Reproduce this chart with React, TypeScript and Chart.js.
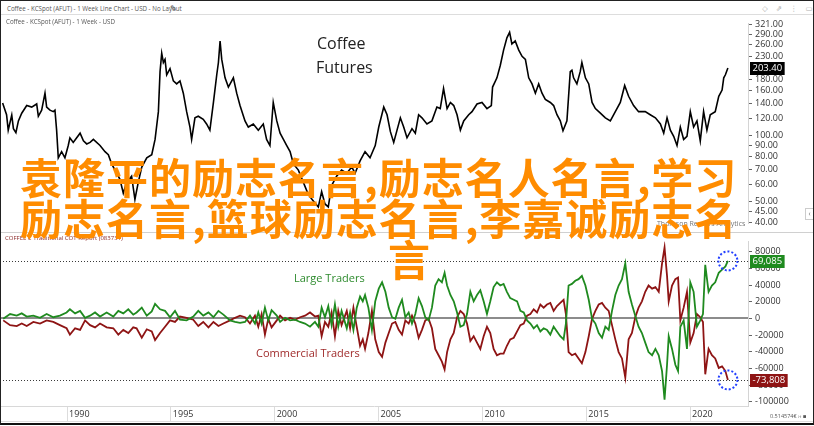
import React, { useEffect, useRef } from "react";
import { Chart, registerables } from "chart.js";

Chart.register(...registerables);

// ---------- Coffee futures (KCSpot) weekly close, USD cents/lb ----------
const priceYears = [
  1986.90, 1987.09, 1987.17, 1987.34, 1987.42, 1987.54, 1987.66, 1987.82, 1988.06, 1988.30,
  1988.54, 1988.62, 1988.78, 1988.94, 1989.02, 1989.18, 1989.34, 1989.42, 1989.50, 1989.58,
  1989.74, 1989.90, 1990.06, 1990.14, 1990.30, 1990.63, 1990.79, 1990.95, 1991.11, 1991.27,
  1991.59, 1991.83, 1991.99, 1992.15, 1992.39, 1992.55, 1992.71, 1992.87, 1993.11, 1993.27,
  1993.43, 1993.60, 1993.84, 1994.08, 1994.24, 1994.40, 1994.48, 1994.56, 1994.64, 1994.72,
  1994.80, 1994.96, 1995.12, 1995.28, 1995.44, 1995.60, 1995.76, 1995.92, 1996.00, 1996.16,
  1996.32, 1996.56, 1996.72, 1996.88, 1997.05, 1997.21, 1997.29, 1997.37, 1997.45, 1997.61,
  1997.77, 1998.01, 1998.17, 1998.33, 1998.57, 1998.73, 1998.97, 1999.21, 1999.45, 1999.61,
  1999.77, 1999.85, 1999.93, 2000.10, 2000.26, 2000.42, 2000.58, 2000.74, 2000.90, 2001.14,
  2001.38, 2001.62, 2001.86, 2002.10, 2002.26, 2002.42, 2002.58, 2002.74, 2002.98, 2003.22,
  2003.47, 2003.71, 2003.87, 2004.11, 2004.35, 2004.59, 2004.84, 2005.01, 2005.25, 2005.41,
  2005.57, 2005.73, 2005.89, 2006.05, 2006.21, 2006.37, 2006.61, 2006.77, 2006.93, 2007.09,
  2007.33, 2007.57, 2007.81, 2007.97, 2008.13, 2008.30, 2008.46, 2008.62, 2008.78, 2008.94,
  2009.10, 2009.34, 2009.50, 2009.74, 2009.98, 2010.22, 2010.43, 2010.49, 2010.70, 2010.86,
  2011.02, 2011.18, 2011.31, 2011.42, 2011.58, 2011.75, 2011.91, 2012.07, 2012.23, 2012.39,
  2012.55, 2012.71, 2012.87, 2013.03, 2013.27, 2013.43, 2013.59, 2013.75, 2013.88, 2014.07,
  2014.23, 2014.31, 2014.39, 2014.55, 2014.71, 2014.79, 2014.96, 2015.12, 2015.28, 2015.44,
  2015.68, 2015.92, 2016.16, 2016.40, 2016.64, 2016.85, 2017.04, 2017.28, 2017.52, 2017.84,
  2018.08, 2018.33, 2018.57, 2018.73, 2018.89, 2019.05, 2019.21, 2019.37, 2019.53, 2019.69,
  2019.85, 2020.01, 2020.17, 2020.33, 2020.49, 2020.65, 2020.81, 2020.97, 2021.21, 2021.38,
  2021.54, 2021.62, 2021.70, 2021.82,
];
const priceValues = [
  140.7, 124.4, 105.8, 124.0, 107.5, 103.1, 116.6, 126.4, 137.0, 134.8,
  139.3, 122.4, 130.5, 156.0, 134.8, 130.5, 128.5, 130.5, 105.8, 79.1,
  84.4, 79.1, 90.0, 97.6, 93.0, 102.5, 94.5, 91.5, 93.0, 96.0,
  90.0, 84.4, 81.7, 74.2, 67.3, 63.1, 54.5, 61.1, 65.2, 51.1,
  61.1, 71.8, 79.1, 81.7, 96.0, 128.5, 195.6, 237.5, 215.4, 222.5,
  189.3, 202.0, 177.5, 171.9, 177.5, 156.0, 128.5, 109.3, 96.0, 120.4,
  122.4, 118.5, 112.9, 105.8, 141.5, 189.3, 215.4, 270.0, 222.5, 183.3,
  166.4, 183.3, 156.0, 137.0, 116.6, 109.3, 112.9, 105.8, 112.9, 96.0,
  90.0, 112.9, 141.5, 116.6, 102.5, 96.0, 90.0, 84.4, 74.2, 69.5,
  61.1, 53.7, 50.3, 47.2, 55.4, 48.7, 47.2, 59.1, 65.2, 69.5,
  67.3, 71.8, 67.3, 76.6, 84.4, 79.1, 90.0, 109.3, 134.8, 124.4,
  104.1, 93.0, 105.8, 120.4, 109.3, 97.6, 107.5, 102.5, 124.4, 120.4,
  112.9, 116.6, 134.8, 132.7, 163.7, 132.7, 141.5, 137.0, 124.4, 105.8,
  116.6, 124.4, 128.5, 139.3, 141.5, 132.7, 137.0, 166.4, 183.3, 208.6,
  245.2, 279.0, 295.8, 261.5, 270.0, 245.2, 229.8, 222.5, 183.3, 171.9,
  156.0, 171.9, 156.0, 146.2, 141.5, 137.0, 124.4, 116.6, 105.2, 116.6,
  195.6, 198.7, 183.3, 171.9, 195.6, 215.4, 183.3, 171.9, 141.5, 132.7,
  126.4, 120.4, 116.6, 128.5, 141.5, 169.1, 151.0, 137.0, 128.5, 128.5,
  124.4, 120.4, 112.9, 102.5, 120.4, 105.8, 99.2, 90.0, 109.3, 96.0,
  99.2, 128.5, 109.3, 116.6, 94.5, 128.5, 105.8, 124.4, 128.5, 151.0,
  161.1, 183.3, 189.3, 203.4,
];
const priceTicks = [321, 290, 260, 230, 180, 160, 140, 120, 100, 90, 80, 70, 60, 50, 45, 40];

// ---------- COT report: net positions (contracts) ----------
const cotYears = [
  1986.93, 1987.26, 1987.58, 1987.82, 1988.06, 1988.38, 1988.70, 1989.02, 1989.34, 1989.66,
  1989.98, 1990.14, 1990.39, 1990.63, 1990.87, 1991.11, 1991.35, 1991.59, 1991.91, 1992.23,
  1992.47, 1992.71, 1992.95, 1993.19, 1993.35, 1993.60, 1993.84, 1994.08, 1994.24, 1994.48,
  1994.72, 1994.96, 1995.20, 1995.44, 1995.76, 1996.08, 1996.32, 1996.56, 1996.81, 1997.05,
  1997.29, 1997.53, 1997.85, 1998.09, 1998.33, 1998.57, 1998.81, 1999.05, 1999.21, 1999.37,
  1999.53, 1999.69, 1999.85, 2000.10, 2000.26, 2000.50, 2000.74, 2000.98, 2001.22, 2001.46,
  2001.70, 2001.94, 2002.10, 2002.26, 2002.42, 2002.58, 2002.74, 2002.90, 2003.06, 2003.22,
  2003.47, 2003.63, 2003.79, 2003.95, 2004.11, 2004.24, 2004.35, 2004.51,
  2004.68, 2004.84, 2005.01, 2005.17, 2005.33, 2005.49, 2005.65, 2005.81, 2005.97, 2006.13,
  2006.29, 2006.45, 2006.61, 2006.77, 2006.93, 2007.09, 2007.25, 2007.41, 2007.57, 2007.73,
  2007.89, 2008.05, 2008.18, 2008.30, 2008.46, 2008.62, 2008.78, 2008.94, 2009.10, 2009.26,
  2009.42, 2009.58, 2009.74, 2009.90, 2010.06, 2010.22, 2010.38, 2010.54, 2010.70, 2010.86,
  2011.02, 2011.18, 2011.34, 2011.51, 2011.67, 2011.83, 2011.99, 2012.15, 2012.31, 2012.47,
  2012.63, 2012.79, 2012.95, 2013.11, 2013.27, 2013.43, 2013.59, 2013.75, 2013.91, 2014.02,
  2014.15, 2014.31, 2014.47, 2014.63, 2014.79, 2014.96, 2015.12, 2015.28, 2015.44, 2015.60,
  2015.76, 2015.92, 2016.08, 2016.24, 2016.40, 2016.56, 2016.72, 2016.88, 2017.04, 2017.20,
  2017.36, 2017.52, 2017.68, 2017.84, 2018.00, 2018.17, 2018.33, 2018.49, 2018.65, 2018.77,
  2018.89, 2018.97, 2019.13, 2019.29, 2019.42, 2019.53, 2019.69, 2019.85, 2020.01, 2020.17,
  2020.33, 2020.49, 2020.62, 2020.73, 2020.89, 2021.05, 2021.21, 2021.38, 2021.54, 2021.70,
  2021.82,
];
const largeTraders = [
  -400, 5300, 3400, 6100, 2300, 3400, 800, 5300, 1500, 3400,
  7200, 11000, 6100, 9100, 800, 3400, 7200, 2300, 7200, 2300,
  9100, 6100, 11000, 4600, 7200, 13000, 3400, 8400, 17500, 11000,
  9100, 1500, 9100, -1500, -2300, 2300, 9100, 3400, 7200, 1500,
  9100, 4600, -2300, -4200, -5300, -4200, 3400, -6100, 7200, -6100,
  13000, -2300, 9900, 3400, -4200, 800, -2300, -1500, -4200, -6100,
  -9900, -4200, -9900, 13000, 1500, 14900, -8000, 16800, -9900, 9100,
  -11800, 7200, -13700, 13000, 26300, 20600, 28200, 13000,
  -13700, 20600, 35800, 43400, 32000, 13000, 1500, -400, 13000, 22500,
  1500, 7200, -6100, 5300, 24400, 14900, 1500, -2300, 13000, 39600,
  47200, 43400, 54900, 39600, 28200, 20600, 7200, -9900, -8000, 5300,
  32000, 20600, 28200, 33900, 20600, 5300, 20600, 37700, 43400, 39600,
  41500, 32000, 24400, 22500, 20600, 9100, 7200, -2300, -6100, -11800,
  -8000, -15600, -11800, -13700, -19400, -9900, -15600, -21300, -25100, -6100,
  39600, 41500, 45300, 47200, 51100, 39600, 22500, -400, -6100, -17500,
  -23200, -9900, -13700, 9100, 28200, 39600, 47200, 66300, 32000, 16800,
  3400, -9900, -17500, -29000, -40400, -44200, -36600, -44200, -63200, -97500,
  -55600, -21300, -36600, -55600, -63200, -9900, -2300, -36600, 43400, 32000,
  -9900, -2300, 5300, 64400, 32000, 39600, 43400, 54900, 58700, 62500,
  69085,
];
const commercialTraders = [
  -2300, -8000, -9100, -6100, -9100, -4200, -6100, -2300, -4200, -8000,
  -11800, -19400, -11800, -13700, -2300, -8000, -10700, -6100, -10700, -11800,
  -19400, -13700, -17500, -10700, -11800, -23200, -13000, -15600, -25900, -17500,
  -9900, -2300, -4200, 2300, 800, -1500, -9100, -4200, -10700, -4200,
  -9100, -6100, -2300, 800, 3400, 1500, -6100, 3400, -9900, 5300,
  -19400, -400, -10700, -2300, 3400, -2300, 800, -1500, 1500, 3400,
  7200, 2300, 3400, -21300, -4200, -9900, 7200, -21300, 9100, -8000,
  9100, -11800, 13000, -10000, -32800, -25100, -36600, -17500,
  9100, -25100, -40400, -46100, -29000, -17500, -6100, -4200, -13700, -19400,
  -2300, -6100, 3400, -6100, -23200, -13700, -2300, -400, -11800, -36600,
  -44200, -51800, -61300, -40400, -25100, -17500, 1500, 9100, 5300, -6100,
  -27100, -21300, -29000, -36600, -21300, -9900, -17500, -36600, -44200, -42300,
  -42300, -32800, -25100, -23200, -15600, -8000, -6100, 3400, 5300, 11000,
  7200, 16800, 13000, 16800, 18700, 9100, 14900, 18700, 22500, 5300,
  -40400, -44200, -42300, -48000, -53700, -40400, -21300, -400, 9100, 16800,
  18700, 13000, 9100, -8000, -25100, -40400, -48000, -70900, -25100, -17500,
  1500, 13000, 20600, 32000, 39600, 35800, 37700, 32000, 66300, 85300,
  51100, 20600, 39600, 47200, 49100, -2300, 13000, 32000, -29000, -17500,
  5300, 1500, -4200, -67100, -36600, -44200, -48000, -59400, -57500, -63200,
  -73808,
];
const cotTicks = [80000, 60000, 40000, 20000, 0, -20000, -40000, -60000, -80000, -100000];
const yearTicks = [1990, 1995, 2000, 2005, 2010, 2015, 2020];

const X_MIN = 1986.774;
const X_MAX = 2022.788;
const AXIS_W = 66;
const FONT = "'Open Sans', 'DejaVu Sans', sans-serif";

function drawTag(ctx: CanvasRenderingContext2D, text: string, x: number, yc: number, bg: string) {
  ctx.save();
  ctx.font = `9.5px ${FONT}`;
  const w = ctx.measureText(text).width + 5;
  const y = Math.round(yc);
  ctx.fillStyle = bg;
  ctx.fillRect(x, y - 6, w, 13);
  ctx.fillStyle = "#ffffff";
  ctx.textBaseline = "middle";
  ctx.textAlign = "left";
  ctx.fillText(text, x + 2.5, y + 0.5);
  ctx.restore();
}

function drawCircle(ctx: CanvasRenderingContext2D, x: number, y: number) {
  ctx.save();
  ctx.beginPath();
  ctx.setLineDash([2, 2]);
  ctx.lineWidth = 2;
  ctx.strokeStyle = "#2440ff";
  ctx.arc(x, y, 9.5, 0, Math.PI * 2);
  ctx.stroke();
  ctx.restore();
}

const fmtThousands = (v: number) => {
  const s = Math.abs(v).toString().replace(/\B(?=(\d{3})+(?!\d))/g, ",");
  return (v < 0 ? "-" : "") + s;
};

const pricePlugin = {
  id: "priceTag",
  afterDraw(chart: any) {
    const y = chart.scales.y;
    const last = priceValues[priceValues.length - 1];
    drawTag(chart.ctx, last.toFixed(2), chart.chartArea.right + 2, y.getPixelForValue(last), "#000000");
  },
};

const cotPlugin = {
  id: "cotOverlay",
  beforeDatasetsDraw(chart: any) {
    const { ctx, chartArea: a } = chart;
    const y = chart.scales.y;
    ctx.save();
    const y0 = Math.round(y.getPixelForValue(0));
    ctx.strokeStyle = "#8c8c8c";
    ctx.lineWidth = 2;
    ctx.beginPath();
    ctx.moveTo(a.left, y0);
    ctx.lineTo(a.right, y0);
    ctx.stroke();
    ctx.setLineDash([1, 2]);
    ctx.lineWidth = 1;
    ctx.strokeStyle = "#3a3a3a";
    const lastL = largeTraders[largeTraders.length - 1];
    const lastC = commercialTraders[commercialTraders.length - 1];
    for (const v of [lastL, lastC]) {
      const py = Math.round(y.getPixelForValue(v)) + 0.5;
      ctx.beginPath();
      ctx.moveTo(a.left, py);
      ctx.lineTo(a.right, py);
      ctx.stroke();
    }
    ctx.restore();
  },
  afterDraw(chart: any) {
    const { ctx, chartArea: a } = chart;
    const x = chart.scales.x;
    const y = chart.scales.y;
    const lastX = cotYears[cotYears.length - 1];
    const lastL = largeTraders[largeTraders.length - 1];
    const lastC = commercialTraders[commercialTraders.length - 1];
    drawCircle(ctx, x.getPixelForValue(lastX), y.getPixelForValue(lastL));
    drawCircle(ctx, x.getPixelForValue(lastX), y.getPixelForValue(lastC));
    drawTag(ctx, fmtThousands(lastL), a.right + 2, y.getPixelForValue(lastL), "#1f8a1f");
    drawTag(ctx, fmtThousands(lastC), a.right + 2, y.getPixelForValue(lastC), "#8e1414");
  },
};

const abs = (left: number, top: number, extra: React.CSSProperties = {}): React.CSSProperties => ({
  position: "absolute",
  left,
  top,
  whiteSpace: "nowrap",
  fontFamily: FONT,
  ...extra,
});

const orangeStyle = (left: number, top: number): React.CSSProperties =>
  abs(left, top, {
    fontFamily: "'Noto Sans CJK SC', sans-serif",
    fontSize: 42,
    lineHeight: "41px",
    letterSpacing: 1,
    fontWeight: 700,
    color: "#ff8c00",
  });

export default function App() {
  const topRef = useRef<HTMLCanvasElement>(null);
  const botRef = useRef<HTMLCanvasElement>(null);

  useEffect(() => {
    document.body.style.margin = "0";
    Chart.defaults.font.family = FONT;

    const priceData = priceYears.map((x, i) => ({ x, y: priceValues[i] }));
    const largeData = cotYears.map((x, i) => ({ x, y: largeTraders[i] }));
    const commData = cotYears.map((x, i) => ({ x, y: commercialTraders[i] }));

    const top = new Chart(topRef.current as HTMLCanvasElement, {
      type: "line",
      data: {
        datasets: [
          {
            data: priceData,
            borderColor: "#000000",
            borderWidth: 1.6,
            pointRadius: 0,
            tension: 0,
          },
        ],
      },
      options: {
        animation: false,
        responsive: false,
        devicePixelRatio: 1,
        layout: { padding: 0 },
        plugins: { legend: { display: false }, tooltip: { enabled: false } },
        scales: {
          x: { type: "linear", display: false, min: X_MIN, max: X_MAX },
          y: {
            type: "logarithmic",
            position: "right",
            min: 39.62,
            max: 324.8,
            afterBuildTicks: (s: any) => {
              s.ticks = priceTicks.map((v) => ({ value: v }));
            },
            afterFit: (s: any) => {
              s.width = AXIS_W;
            },
            grid: { drawOnChartArea: false, drawTicks: true, tickLength: 4, color: "#666666" },
            border: { display: true, color: "#d4d4d4" },
            ticks: {
              autoSkip: false,
              padding: 3,
              color: "#333333",
              font: { size: 9 },
              callback: (v: any) => Number(v).toFixed(2),
            },
          },
        },
      } as any,
      plugins: [pricePlugin],
    });

    const bot = new Chart(botRef.current as HTMLCanvasElement, {
      type: "line",
      data: {
        datasets: [
          {
            label: "Large Traders",
            data: largeData,
            borderColor: "#1f8a1f",
            borderWidth: 1.8,
            pointRadius: 0,
            tension: 0,
          },
          {
            label: "Commercial Traders",
            data: commData,
            borderColor: "#8e1414",
            borderWidth: 1.8,
            pointRadius: 0,
            tension: 0,
          },
        ],
      },
      options: {
        animation: false,
        responsive: false,
        devicePixelRatio: 1,
        layout: { padding: 0 },
        plugins: { legend: { display: false }, tooltip: { enabled: false } },
        scales: {
          x: {
            type: "linear",
            min: X_MIN,
            max: X_MAX,
            afterBuildTicks: (s: any) => {
              s.ticks = yearTicks.map((v) => ({ value: v }));
            },
            afterFit: (s: any) => {
              s.height = 17;
            },
            grid: { drawOnChartArea: false, drawTicks: true, tickLength: 15, color: "#dcdcdc" },
            border: { display: true, color: "#d8d8d8" },
            ticks: {
              autoSkip: false,
              maxRotation: 0,
              align: "start",
              labelOffset: 2,
              padding: -12,
              color: "#333333",
              font: { size: 9 },
              callback: (v: any) => String(v),
            },
          },
          y: {
            position: "right",
            min: -105143,
            max: 92571,
            afterBuildTicks: (s: any) => {
              s.ticks = cotTicks.map((v) => ({ value: v }));
            },
            afterFit: (s: any) => {
              s.width = AXIS_W;
            },
            grid: { drawOnChartArea: false, drawTicks: true, tickLength: 4, color: "#666666" },
            border: { display: true, color: "#d4d4d4" },
            ticks: {
              autoSkip: false,
              padding: 3,
              color: "#333333",
              font: { size: 9 },
              callback: (v: any) => String(v),
            },
          },
        },
      } as any,
      plugins: [cotPlugin],
    });

    return () => {
      top.destroy();
      bot.destroy();
    };
  }, []);

  return (
    <div style={{ position: "fixed", left: 0, top: 0, width: 814, height: 426, background: "#ffffff", overflow: "hidden" }}>
      {/* header */}
      <div style={abs(7, 4, { fontSize: 6.2, color: "#555", lineHeight: "9px" })}>
        Coffee - KCSpot (AFUT) - 1 Week Line Chart - USD - No Layout
      </div>
      <div style={abs(170, 3, { fontSize: 8, color: "#555", lineHeight: "10px" })}>✎</div>
      <div style={abs(762, 3, { fontSize: 7.5, color: "#b0b0b0", lineHeight: "10px", letterSpacing: 3 })}>◇ ⇗ ⋮ ▭ ✕</div>
      <div style={{ position: "absolute", left: 0, top: 14, width: 814, height: 1, background: "#dddddd" }} />

      <canvas
        ref={topRef}
        width={814}
        height={217}
        style={{ position: "absolute", left: 0, top: 15, width: 814, height: 217 }}
      />
      <div style={{ position: "absolute", left: 0, top: 232, width: 814, height: 1, background: "#d0d0d0" }} />
      <canvas
        ref={botRef}
        width={814}
        height={190}
        style={{ position: "absolute", left: 0, top: 233, width: 814, height: 190 }}
      />
      <div style={{ position: "absolute", left: 0, top: 421, width: 814, height: 1, background: "#dddddd" }} />

      {/* annotations */}
      <div style={abs(6, 17, { fontSize: 6.2, color: "#555", lineHeight: "9px" })}>Coffee - KCSpot (AFUT) - 1 Week - USD</div>
      <div style={abs(317, 33, { fontSize: 16, color: "#222", lineHeight: "20px" })}>Coffee</div>
      <div style={abs(316, 57, { fontSize: 16, color: "#222", lineHeight: "20px" })}>Futures</div>
      <div style={abs(657, 219, { fontSize: 7, color: "#777", lineHeight: "9px" })}>Thomson Reuters Analytics</div>
      <div style={abs(5, 234, { fontSize: 6, color: "#8b2a2a", lineHeight: "8px" })}>COFFEE C Traditional COT Report (083731)</div>
      <div style={abs(294, 270, { fontSize: 11, color: "#2e8b2e", lineHeight: "15px" })}>Large Traders</div>
      <div style={abs(256, 345, { fontSize: 11, color: "#a02c2c", lineHeight: "15px" })}>Commercial Traders</div>
      <div style={abs(770, 413, { fontSize: 5.5, color: "#555", lineHeight: "7px" })}>0.514574€ ›› ▪</div>
      <div style={{ position: "absolute", left: 805, top: 208, width: 7, height: 10, border: "1px solid #ccc", fontSize: 7, lineHeight: "10px", color: "#777", textAlign: "center", fontFamily: FONT }}>‹</div>

      {/* orange overlay text */}
      <div style={orangeStyle(20, 155)}>袁隆平的励志名言,励志名人名言,学习</div>
      <div style={orangeStyle(20, 196)}>励志名言,篮球励志名言,李嘉诚励志名</div>
      <div style={orangeStyle(388, 237)}>言</div>

      {/* frame */}
      <div style={{ position: "absolute", left: 0, top: 0, width: 812, height: 422, borderTop: "1px solid #222", borderLeft: "1px solid #222", borderRight: "1px solid #222", borderBottom: "2px solid #111" }} />
    </div>
  );
}
